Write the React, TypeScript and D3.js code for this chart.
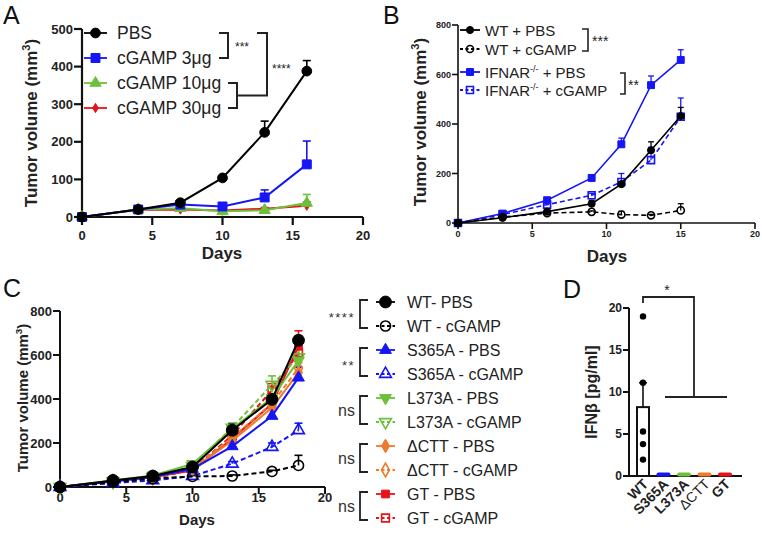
import React from 'react';
import * as d3 from 'd3';

const FONT = '"Liberation Sans", Arial, Helvetica, sans-serif';
const BLUE = '#1515f5';
const GREEN = '#6cc03a';
const ORANGE = '#ee7a2c';
const RED = '#e8121a';

// ---- panel A
const aDays = [0, 4, 7, 10, 13, 16];
const aPBS = [0, 20, 38, 104, 225, 388];
const aPBSErr = [0, 2, 4, 4, 30, 28];
const a3 = [0, 20, 33, 28, 52, 140];
const a3Err = [0, 2, 3, 4, 20, 62];
const a10 = [0, 20, 23, 15, 18, 37];
const a10Err = [0, 2, 2, 2, 3, 23];
const a30 = [0, 19, 20, 17, 22, 30];
const a30Err = [0, 2, 2, 2, 3, 10];
const aLegend = ['PBS', 'cGAMP 3\u03bcg', 'cGAMP 10\u03bcg', 'cGAMP 30\u03bcg'];
const aYTicks = [0, 100, 200, 300, 400, 500];
const xTicks20 = [0, 5, 10, 15, 20];

// ---- panel B
const bDays = [0, 3, 6, 9, 11, 13, 15];
const bWtPbs = [0, 21, 46, 78, 157, 294, 432];
const bWtPbsErr = [0, 3, 5, 14, 10, 34, 35];
const bWtCg = [0, 24, 40, 45, 34, 31, 51];
const bWtCgErr = [0, 3, 4, 4, 13, 4, 27];
const bIfPbs = [0, 38, 92, 182, 318, 557, 659];
const bIfPbsErr = [0, 3, 5, 5, 25, 37, 41];
const bIfCg = [0, 34, 74, 112, 166, 254, 429];
const bIfCgErr = [0, 4, 6, 8, 34, 52, 76];
const bYTicks = [0, 200, 400, 600, 800];

// ---- panel C
const cDays = [0, 4, 7, 10, 13, 16, 18];
const cWtPbs = [0, 30, 50, 91, 258, 398, 667];
const cWtPbsErr = [0, 4, 4, 5, 30, 10, 20];
const cWtCg = [0, 22, 38, 48, 50, 71, 98];
const cWtCgErr = [0, 3, 3, 4, 5, 5, 46];
const cS365Pbs = [0, 25, 45, 82, 185, 323, 497];
const cS365PbsErr = [0, 3, 4, 6, 15, 37, 48];
const cS365Cg = [0, 18, 30, 50, 106, 182, 258];
const cS365CgErr = [0, 3, 3, 5, 10, 18, 32];
const cL373Pbs = [0, 30, 52, 105, 265, 405, 575];
const cL373PbsErr = [0, 3, 4, 6, 15, 20, 30];
const cL373Cg = [0, 25, 45, 95, 270, 465, 590];
const cL373CgErr = [0, 3, 4, 6, 20, 40, 35];
const cCttPbs = [0, 28, 45, 82, 210, 360, 520];
const cCttPbsErr = [0, 3, 4, 5, 12, 20, 25];
const cCttCg = [0, 25, 42, 85, 225, 380, 540];
const cCttCgErr = [0, 3, 4, 5, 12, 20, 25];
const cGtPbs = [0, 27, 45, 75, 220, 378, 640];
const cGtPbsErr = [0, 3, 4, 5, 15, 25, 70];
const cGtCg = [0, 25, 38, 80, 235, 440, 610];
const cGtCgErr = [0, 3, 4, 5, 15, 30, 30];
const cLegend = ['WT- PBS', 'WT - cGAMP', 'S365A - PBS', 'S365A - cGAMP', 'L373A - PBS', 'L373A - cGAMP',
  '\u0394CTT - PBS', '\u0394CTT - cGAMP', 'GT - PBS', 'GT - cGAMP'];
const cSig = ['****', '**', 'ns', 'ns', 'ns'];
const cYTicks = [0, 200, 400, 600, 800];

// ---- panel D
const dCats = ['WT', 'S365A', 'L373A', '\u0394CTT', 'GT'];
const dMeans = [8.2, 0, 0, 0, 0];
const dErr = [2.9, 0, 0, 0, 0];
const dWtPoints = [19, 11.1, 5.3, 3.8, 1.95];
const dColors = ['#000', BLUE, GREEN, ORANGE, RED];
const dYTicks = [0, 5, 10, 15, 20];

type Shape = 'circle' | 'square' | 'triangle' | 'triangleDown' | 'diamond';
type Series = { vals: number[]; err: number[]; color: string; shape: Shape; open?: boolean; dashed?: boolean; size: number };

const symTypes: Record<Shape, d3.SymbolType> = {
  circle: d3.symbolCircle, square: d3.symbolSquare, triangle: d3.symbolTriangle,
  triangleDown: d3.symbolTriangle, diamond: d3.symbolDiamond,
};

function Marker({ x, y, s }: { x: number; y: number; s: Series }) {
  const d = d3.symbol().type(symTypes[s.shape]).size(s.size)() as string;
  return (
    <path d={d} transform={`translate(${x},${y})${s.shape === 'triangleDown' ? ' rotate(180)' : ''}`}
      fill={s.open ? 'none' : s.color} stroke={s.color} strokeWidth={s.open ? 1.6 : 1} />
  );
}

function Plot({ days, series, xs, ys, lw, cap }: any) {
  const line = d3.line<number>().x((_, i) => xs(days[i])).y(v => ys(v));
  const list = [...series].reverse();
  return (
    <g>
      {list.map((s: Series, k: number) => (
        <g key={'e' + k} stroke={s.color} strokeWidth={lw * 0.8}>
          {s.vals.map((v, i) => s.err[i] > 0 && (
            <g key={i}>
              <line x1={xs(days[i])} x2={xs(days[i])} y1={ys(v)} y2={ys(v + s.err[i])} />
              <line x1={xs(days[i]) - cap / 2} x2={xs(days[i]) + cap / 2} y1={ys(v + s.err[i])} y2={ys(v + s.err[i])} />
            </g>
          ))}
        </g>
      ))}
      {list.map((s: Series, k: number) => (
        <g key={'l' + k}>
          <path d={line(s.vals) as string} fill="none" stroke={s.color} strokeWidth={lw}
            strokeDasharray={s.dashed ? '5,3' : undefined} />
          {s.vals.map((v, i) => <Marker key={i} x={xs(days[i])} y={ys(v)} s={s} />)}
        </g>
      ))}
    </g>
  );
}

function Axes({ xs, ys, xTicks, yTicks, fs, tl, sw, xLabDy }: any) {
  const [x0, x1] = xs.range();
  const [y0, y1] = ys.range();
  return (
    <g fontFamily={FONT} fontWeight="bold" fontSize={fs} fill="#222">
      <line x1={x0} x2={x0} y1={y0} y2={y1} stroke="#111" strokeWidth={sw} />
      <line x1={x0} x2={x1} y1={y0} y2={y0} stroke="#111" strokeWidth={sw} />
      {yTicks.map((t: number) => (
        <g key={'y' + t}>
          <line x1={x0 - tl} x2={x0} y1={ys(t)} y2={ys(t)} stroke="#111" strokeWidth={sw} />
          <text x={x0 - tl - 1} y={ys(t) + fs * 0.36} textAnchor="end">{t}</text>
        </g>
      ))}
      {xTicks && xTicks.map((t: number) => (
        <g key={'x' + t}>
          <line x1={xs(t)} x2={xs(t)} y1={y0} y2={y0 + tl} stroke="#111" strokeWidth={sw} />
          <text x={xs(t)} y={y0 + xLabDy} textAnchor="middle">{t}</text>
        </g>
      ))}
    </g>
  );
}

function YLabel({ x, y, fs }: { x: number; y: number; fs: number }) {
  return (
    <text transform={`translate(${x},${y}) rotate(-90)`} textAnchor="middle" fontFamily={FONT}
      fontWeight="bold" fontSize={fs} fill="#222">
      Tumor volume (mm<tspan dy={-fs * 0.4} fontSize={fs * 0.65}>3</tspan><tspan dy={fs * 0.4}>)</tspan>
    </text>
  );
}

function LegendRow({ x1, x2, y, s }: { x1: number; x2: number; y: number; s: Series }) {
  return (
    <g>
      <line x1={x1} x2={x2} y1={y} y2={y} stroke={s.color} strokeWidth={1.8}
        strokeDasharray={s.dashed ? '3,2.5' : undefined} />
      <Marker x={(x1 + x2) / 2} y={y} s={s} />
    </g>
  );
}

export default function App() {
  // A
  const axA = d3.scaleLinear().domain([0, 20]).range([82, 363]);
  const ayA = d3.scaleLinear().domain([0, 500]).range([217, 29]);
  const serA: Series[] = [
    { vals: aPBS, err: aPBSErr, color: '#000', shape: 'circle', size: 75 },
    { vals: a3, err: a3Err, color: BLUE, shape: 'square', size: 80 },
    { vals: a10, err: a10Err, color: GREEN, shape: 'triangle', size: 55 },
    { vals: a30, err: a30Err, color: RED, shape: 'diamond', size: 25 },
  ];
  const aRows = [33, 58, 83, 108];

  // B
  const axB = d3.scaleLinear().domain([0, 20]).range([458, 755]);
  const ayB = d3.scaleLinear().domain([0, 800]).range([223, 25]);
  const serB: Series[] = [
    { vals: bWtPbs, err: bWtPbsErr, color: '#000', shape: 'circle', size: 40 },
    { vals: bWtCg, err: bWtCgErr, color: '#000', shape: 'circle', size: 40, open: true, dashed: true },
    { vals: bIfPbs, err: bIfPbsErr, color: BLUE, shape: 'square', size: 48 },
    { vals: bIfCg, err: bIfCgErr, color: BLUE, shape: 'square', size: 48, open: true, dashed: true },
  ];
  const bRows = [30, 49, 72, 90];
  const bLegend = ['WT + PBS', 'WT + cGAMP', 'IFNAR', 'IFNAR'];

  // C
  const axC = d3.scaleLinear().domain([0, 20]).range([60, 325]);
  const ayC = d3.scaleLinear().domain([0, 800]).range([487, 311]);
  const serC: Series[] = [
    { vals: cWtPbs, err: cWtPbsErr, color: '#000', shape: 'circle', size: 110 },
    { vals: cWtCg, err: cWtCgErr, color: '#000', shape: 'circle', size: 80, open: true, dashed: true },
    { vals: cS365Pbs, err: cS365PbsErr, color: BLUE, shape: 'triangle', size: 60 },
    { vals: cS365Cg, err: cS365CgErr, color: BLUE, shape: 'triangle', size: 60, open: true, dashed: true },
    { vals: cL373Pbs, err: cL373PbsErr, color: GREEN, shape: 'triangleDown', size: 60 },
    { vals: cL373Cg, err: cL373CgErr, color: GREEN, shape: 'triangleDown', size: 60, open: true, dashed: true },
    { vals: cCttPbs, err: cCttPbsErr, color: ORANGE, shape: 'diamond', size: 55 },
    { vals: cCttCg, err: cCttCgErr, color: ORANGE, shape: 'diamond', size: 55, open: true, dashed: true },
    { vals: cGtPbs, err: cGtPbsErr, color: RED, shape: 'square', size: 60 },
    { vals: cGtCg, err: cGtCgErr, color: RED, shape: 'square', size: 60, open: true, dashed: true },
  ];
  const cRow0 = 302;
  const cStep = 24;

  // D
  const dx = d3.scalePoint<string>().domain(dCats).range([643, 725]);
  const dy = d3.scaleLinear().domain([0, 20]).range([476, 308]);
  const dxAxis = d3.scaleLinear().domain([0, 1]).range([629, 742]);
  const bw = 12;

  return (
    <svg width={762} height={538} style={{ position: 'absolute', left: 0, top: 0, background: '#fff' }}
      fontFamily={FONT}>
      <rect width={762} height={538} fill="#fff" />
      {/* ---------- A ---------- */}
      <text x={3} y={24} fontSize={25} fill="#111">A</text>
      <Axes xs={axA} ys={ayA} xTicks={xTicks20} yTicks={aYTicks} fs={13} tl={8} sw={2.2} xLabDy={23} />
      <Plot days={aDays} series={serA} xs={axA} ys={ayA} lw={2} cap={8} />
      {serA.map((s, i) => (
        <g key={i}>
          <LegendRow x1={84} x2={107} y={aRows[i]} s={s} />
          <text x={117} y={aRows[i] + 6} fontSize={17.5} fill="#222">{aLegend[i]}</text>
        </g>
      ))}
      <g fill="none" stroke="#222" strokeWidth={2}>
        <path d={`M219,${aRows[0]}H228V${aRows[1]}H219`} />
        <path d={`M228,${aRows[2]}H237V${aRows[3]}H228`} />
        <path d={`M237,${(aRows[2] + aRows[3]) / 2}H267V${aRows[0]}H257`} />
      </g>
      <text x={235} y={51} fontSize={12} fill="#222">***</text>
      <text x={272} y={73} fontSize={12} fill="#222">****</text>
      <YLabel x={37} y={123} fs={17} />
      <text x={222} y={259} textAnchor="middle" fontSize={17} fontWeight="bold" fill="#222">Days</text>

      {/* ---------- B ---------- */}
      <text x={383} y={24} fontSize={25} fill="#111">B</text>
      <Axes xs={axB} ys={ayB} xTicks={xTicks20} yTicks={bYTicks} fs={9} tl={6} sw={1.6} xLabDy={14} />
      <Plot days={bDays} series={serB} xs={axB} ys={ayB} lw={1.6} cap={6} />
      {serB.map((s, i) => (
        <g key={i}>
          <LegendRow x1={460} x2={480} y={bRows[i]} s={s} />
          <text x={485} y={bRows[i] + 5.5} fontSize={15} fill="#222">
            {i < 2 ? bLegend[i] : (
              <>IFNAR<tspan dy={-6} fontSize={9}>-/-</tspan><tspan dy={6}>{i === 2 ? ' + PBS' : ' + cGAMP'}</tspan></>
            )}
          </text>
        </g>
      ))}
      <g fill="none" stroke="#222" strokeWidth={1.6}>
        <path d={`M582,${bRows[0] - 1}H588V${bRows[1] + 2}H582`} />
        <path d={`M620,${bRows[2] + 1}H625V${bRows[3] + 4}H620`} />
      </g>
      <text x={592} y={46} fontSize={14} fill="#222">***</text>
      <text x={628} y={90} fontSize={14} fill="#222">**</text>
      <YLabel x={426} y={122} fs={17} />
      <text x={607} y={262} textAnchor="middle" fontSize={17} fontWeight="bold" fill="#222">Days</text>

      {/* ---------- C ---------- */}
      <text x={3} y={297} fontSize={25} fill="#111">C</text>
      <Axes xs={axC} ys={ayC} xTicks={xTicks20} yTicks={cYTicks} fs={13} tl={7} sw={2} xLabDy={15} />
      <Plot days={cDays} series={serC} xs={axC} ys={ayC} lw={2} cap={8} />
      {serC.map((s, i) => (
        <g key={i}>
          <LegendRow x1={376} x2={395} y={cRow0 + i * cStep} s={s} />
          <text x={407} y={cRow0 + i * cStep + 6} fontSize={16} fill="#222">{cLegend[i]}</text>
        </g>
      ))}
      <g fill="none" stroke="#222" strokeWidth={1.8}>
        {cSig.map((t, k) => (
          <path key={k} d={`M368,${cRow0 + 2 * k * cStep - 2}H360V${cRow0 + (2 * k + 1) * cStep + 2}H368`} />
        ))}
      </g>
      {cSig.map((t, k) => (
        <text key={k} x={355} y={cRow0 + (2 * k + 0.5) * cStep + (t === 'ns' ? 6 : 8)} textAnchor="end"
          fontSize={t === 'ns' ? 16 : 13} fill="#333" letterSpacing={t === 'ns' ? 0 : 1.5}>{t}</text>
      ))}
      <YLabel x={28} y={398} fs={15} />
      <text x={197} y={525} textAnchor="middle" fontSize={15} fontWeight="bold" fill="#222">Days</text>

      {/* ---------- D ---------- */}
      <text x={563} y={298} fontSize={25} fill="#111">D</text>
      <Axes xs={dxAxis} ys={dy} yTicks={dYTicks} fs={12} tl={6} sw={2} />
      {dCats.map((c, i) => (
        <g key={c}>
          {i === 0 ? (
            <rect x={(dx(c) as number) - bw / 2} y={dy(dMeans[i])} width={bw} height={dy(0) - dy(dMeans[i])}
              fill="none" stroke="#111" strokeWidth={2} />
          ) : (
            <line x1={(dx(c) as number) - bw / 2 + 1} x2={(dx(c) as number) + bw / 2 - 1} y1={dy(0) - 1.5} y2={dy(0) - 1.5}
              stroke={dColors[i]} strokeWidth={4} strokeLinecap="round" />
          )}
          {dErr[i] > 0 && (
            <g stroke="#111" strokeWidth={1.6}>
              <line x1={dx(c)} x2={dx(c)} y1={dy(dMeans[i])} y2={dy(dMeans[i] + dErr[i])} />
              <line x1={(dx(c) as number) - 4} x2={(dx(c) as number) + 4} y1={dy(dMeans[i] + dErr[i])} y2={dy(dMeans[i] + dErr[i])} />
            </g>
          )}
          <text transform={`translate(${(dx(c) as number) + 6},${485}) rotate(-45)`} textAnchor="end"
            fontSize={14} fontWeight={c.startsWith('\u0394') ? 'normal' : 'bold'} fill="#222">{c}</text>
        </g>
      ))}
      {dWtPoints.map((v, i) => (
        <circle key={i} cx={dx('WT')} cy={dy(v)} r={3.2} fill="#000" />
      ))}
      <g fill="none" stroke="#222" strokeWidth={1.8}>
        <path d={`M643,303V297H694V397`} />
        <path d={`M665,397H727`} />
      </g>
      <text x={667} y={295} textAnchor="middle" fontSize={14} fill="#222">*</text>
      <text transform="translate(597,392) rotate(-90)" textAnchor="middle" fontSize={16} fontWeight="bold"
        fill="#222">IFN{'\u03b2'} [pg/ml]</text>
    </svg>
  );
}
